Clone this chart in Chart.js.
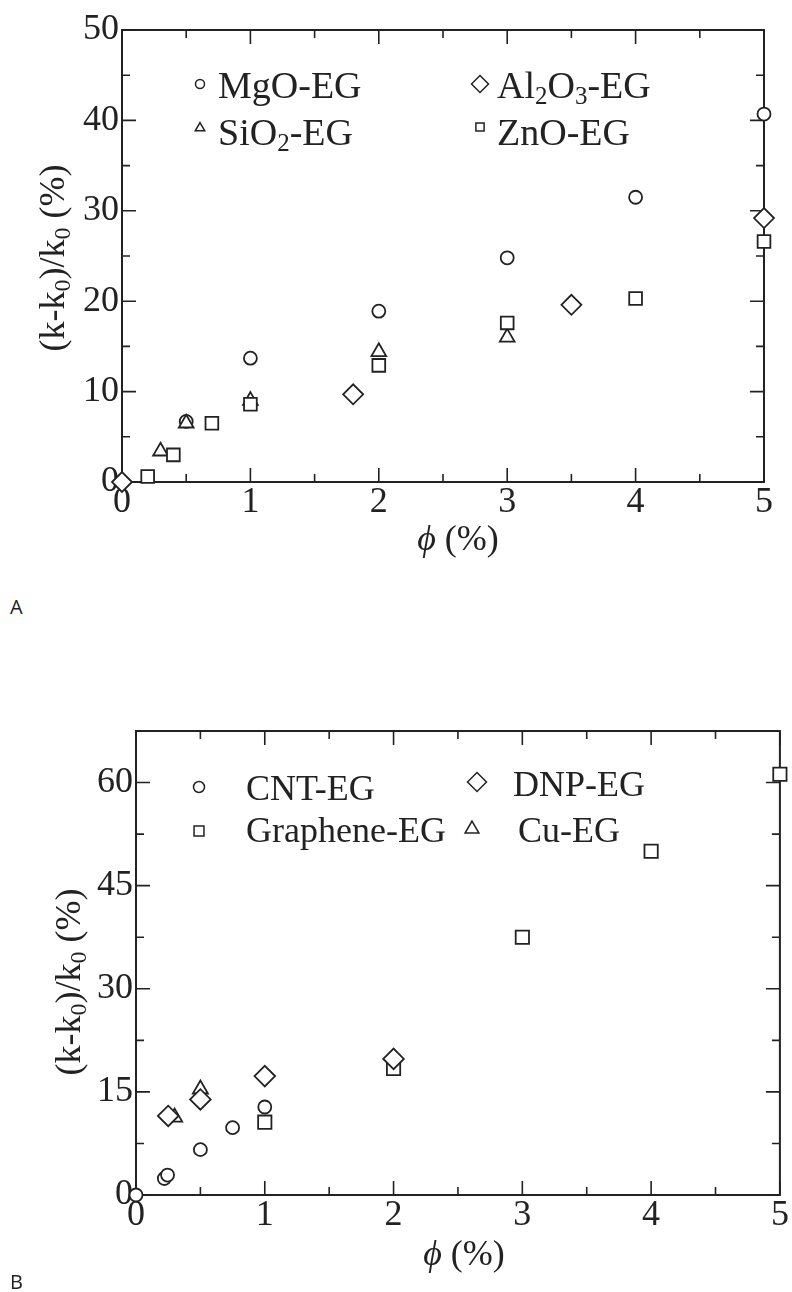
<!DOCTYPE html>
<html>
<head>
<meta charset="utf-8">
<script src="https://cdn.jsdelivr.net/npm/chart.js@4.4.0/dist/chart.umd.min.js"></script>
<style>
  html, body { margin: 0; padding: 0; background: #fff; }
  body { position: relative; width: 792px; height: 1292px; overflow: hidden; }
  canvas { position: absolute; left: 0; }
  #chartA { top: 0; }
  #chartB { top: 640px; }
  .panel { position: absolute; left: 10px; font-family: "Open Sans", sans-serif; font-size: 20px; line-height: 20px; color: #222; }
</style>
</head>
<body>
<canvas id="chartA" width="792" height="580"></canvas>
<canvas id="chartB" width="792" height="652"></canvas>
<div class="panel" style="top:597px">A</div>
<div class="panel" style="top:1272px">B</div>

<script>
// ---- Panel A data: (k-k0)/k0 (%) vs volume fraction phi (%) ----
const mgoX   = [0.5, 1, 2, 3, 4, 5];
const mgoY   = [6.7, 13.7, 18.9, 24.8, 31.5, 40.7];
const sio2X  = [0.3, 0.5, 1, 2, 3];
const sio2Y  = [3.4, 6.5, 9.0, 14.4, 16.0];
const al2o3X = [0, 1.8, 3.5, 5];
const al2o3Y = [0, 9.7, 19.6, 29.2];
const znoX   = [0.2, 0.4, 0.7, 1, 2, 3, 4, 5];
const znoY   = [0.6, 3.0, 6.5, 8.6, 12.9, 17.6, 20.3, 26.6];

// ---- Panel B data ----
const cntX      = [0, 0.22, 0.245, 0.5, 0.75, 1];
const cntY      = [0, 2.4, 2.9, 6.6, 9.8, 12.8];
const grapheneX = [1, 2, 3, 4, 5];
const grapheneY = [10.6, 18.4, 37.5, 50.0, 61.2];
const dnpX      = [0.25, 0.5, 1, 2];
const dnpY      = [11.5, 13.9, 17.3, 19.8];
const cuX       = [0.3, 0.5];
const cuY       = [11.3, 15.4];

// axis ranges / tick steps
const axisA = { xMax: 5, xStep: 0.5, xMajor: 1, yMax: 50, yStep: 5, yMajor: 10 };
const axisB = { xMax: 5, xStep: 0.5, xMajor: 1, yMax: 67.5, yStep: 7.5, yMajor: 15 };

// legend labels (rich text: sub = subscript)
const labelsA = {
  mgo:   [{ t: 'MgO-EG' }],
  al2o3: [{ t: 'Al' }, { t: '2', sub: true }, { t: 'O' }, { t: '3', sub: true }, { t: '-EG' }],
  sio2:  [{ t: 'SiO' }, { t: '2', sub: true }, { t: '-EG' }],
  zno:   [{ t: 'ZnO-EG' }]
};
const labelsB = {
  cnt:      [{ t: 'CNT-EG' }],
  dnp:      [{ t: 'DNP-EG' }],
  graphene: [{ t: 'Graphene-EG' }],
  cu:       [{ t: 'Cu-EG' }]
};
const yTitle = [{ t: '(k-k' }, { t: '0', sub: true }, { t: ')/k' }, { t: '0', sub: true }, { t: ' (%)' }];
const xTitle = [{ t: '\u03D5', italic: true }, { t: ' (%)' }];

const INK = '#222';
const SERIF = '"Liberation Serif", "Times New Roman", serif';

function zip(xs, ys) {
    return xs.map((x, i) => ({ x: x, y: ys[i] }));
}

function isMajor(v, step) {
    const q = v / step;
    return Math.abs(q - Math.round(q)) < 1e-6;
}

// draw a string made of parts (normal / italic / subscript)
function drawRich(ctx, parts, x, y, size, align) {
    const fontOf = p => (p.italic ? 'italic ' : '') + (p.sub ? Math.round(size * 0.66) : size) + 'px ' + SERIF;
    let w = 0;
    parts.forEach(p => { ctx.font = fontOf(p); w += ctx.measureText(p.t).width; });
    let cx = align === 'center' ? x - w / 2 : x;
    ctx.textAlign = 'left';
    ctx.textBaseline = 'alphabetic';
    parts.forEach(p => {
        ctx.font = fontOf(p);
        ctx.fillText(p.t, cx, y + (p.sub ? size * 0.17 : 0));
        cx += ctx.measureText(p.t).width;
    });
}

// open marker, same geometry as Chart.js point styles
function drawMarker(ctx, style, r, x, y) {
    ctx.beginPath();
    if (style === 'circle') {
        ctx.arc(x, y, r, 0, Math.PI * 2);
    } else if (style === 'rect') {
        const s = Math.SQRT1_2 * r;
        ctx.rect(x - s, y - s, 2 * s, 2 * s);
    } else if (style === 'rectRot') {
        ctx.moveTo(x - r, y); ctx.lineTo(x, y - r); ctx.lineTo(x + r, y); ctx.lineTo(x, y + r);
        ctx.closePath();
    } else if (style === 'triangle') {
        ctx.moveTo(x, y - r);
        ctx.lineTo(x + r * Math.sin(2 * Math.PI / 3), y + r / 2);
        ctx.lineTo(x - r * Math.sin(2 * Math.PI / 3), y + r / 2);
        ctx.closePath();
    }
    ctx.fill();
    ctx.stroke();
}

// box around the plot with inward ticks on all four sides
const framePlugin = {
    id: 'frame',
    beforeDatasetsDraw(chart, args, opts) {
        const { ctx, chartArea: a, scales } = chart;
        const x = scales.x, y = scales.y;
        ctx.save();
        ctx.strokeStyle = INK;
        ctx.lineWidth = 2;
        ctx.strokeRect(a.left, a.top, a.right - a.left, a.bottom - a.top);
        ctx.lineWidth = 1.6;
        ctx.beginPath();
        x.ticks.forEach(t => {
            const px = x.getPixelForValue(t.value);
            const len = isMajor(t.value, opts.xMajor) ? 14 : 8;
            ctx.moveTo(px, a.bottom); ctx.lineTo(px, a.bottom - len);
            ctx.moveTo(px, a.top);    ctx.lineTo(px, a.top + len);
        });
        y.ticks.forEach(t => {
            const py = y.getPixelForValue(t.value);
            const len = isMajor(t.value, opts.yMajor) ? 14 : 8;
            ctx.moveTo(a.left, py);  ctx.lineTo(a.left + len, py);
            ctx.moveTo(a.right, py); ctx.lineTo(a.right - len, py);
        });
        ctx.stroke();
        ctx.restore();
    },
    afterDraw(chart, args, opts) {
        const ctx = chart.ctx;
        ctx.save();
        ctx.fillStyle = INK;
        // x title
        drawRich(ctx, xTitle, opts.xTitle.x, opts.xTitle.y, 36, 'center');
        // y title, rotated
        ctx.translate(opts.yTitle.x, opts.yTitle.y);
        ctx.rotate(-Math.PI / 2);
        drawRich(ctx, yTitle, 0, 0, 36, 'center');
        ctx.restore();

        // legend
        ctx.save();
        ctx.strokeStyle = INK;
        ctx.fillStyle = '#fff';
        ctx.lineWidth = 1.5;
        opts.legend.forEach(it => drawMarker(ctx, it.style, it.r, it.mx, it.my));
        ctx.fillStyle = INK;
        opts.legend.forEach(it => drawRich(ctx, it.parts, it.tx, it.ty, opts.legendSize, 'left'));
        ctx.restore();
    }
};

function series(data, style, radius) {
    return {
        data: data,
        pointStyle: style,
        pointRadius: radius,
        pointBorderWidth: 1.8,
        pointBorderColor: INK,
        pointBackgroundColor: '#fff',
        showLine: false,
        clip: false
    };
}

function makeChart(canvasId, datasets, axis, yWidth, xHeight, padding, frameOpts) {
    const ctx = document.getElementById(canvasId);
    return new Chart(ctx, {
        type: 'scatter',
        data: { datasets: datasets },
        options: {
            responsive: false,
            animation: false,
            events: [],
            layout: { padding: padding },
            plugins: {
                legend: { display: false },
                tooltip: { enabled: false },
                frame: frameOpts
            },
            scales: {
                x: {
                    type: 'linear',
                    min: 0,
                    max: axis.xMax,
                    afterFit: s => { s.height = xHeight; },
                    grid: { display: true, drawOnChartArea: false, drawTicks: false },
                    border: { display: false },
                    ticks: {
                        stepSize: axis.xStep,
                        autoSkip: false,
                        maxRotation: 0,
                        padding: 3,
                        color: INK,
                        font: { family: SERIF, size: 36, lineHeight: 1 },
                        callback: v => isMajor(v, axis.xMajor) ? String(v) : ''
                    }
                },
                y: {
                    type: 'linear',
                    min: 0,
                    max: axis.yMax,
                    afterFit: s => { s.width = yWidth; },
                    grid: { display: true, drawOnChartArea: false, drawTicks: false },
                    border: { display: false },
                    ticks: {
                        stepSize: axis.yStep,
                        autoSkip: false,
                        padding: 3,
                        color: INK,
                        font: { family: SERIF, size: 36, lineHeight: 1 },
                        callback: v => isMajor(v, axis.yMajor) ? String(v) : ''
                    }
                }
            }
        },
        plugins: [framePlugin]
    });
}

// Panel A: first dataset is drawn on top
makeChart('chartA', [
    series(zip(znoX, znoY), 'rect', 9),
    series(zip(sio2X, sio2Y), 'triangle', 8.5),
    series(zip(mgoX, mgoY), 'circle', 6.5),
    series(zip(al2o3X, al2o3Y), 'rectRot', 10)
], axisA, 122, 98, { top: 30, right: 28, left: 0, bottom: 0 }, {
    xMajor: axisA.xMajor,
    yMajor: axisA.yMajor,
    xTitle: { x: 458, y: 550 },
    yTitle: { x: 64, y: 258 },
    legendSize: 38,
    legend: [
        { style: 'circle',   r: 4.5, mx: 200, my: 84,  parts: labelsA.mgo,   tx: 218, ty: 98 },
        { style: 'rectRot',  r: 8.5, mx: 480, my: 84,  parts: labelsA.al2o3, tx: 497, ty: 98 },
        { style: 'triangle', r: 5.5, mx: 200, my: 128, parts: labelsA.sio2,  tx: 218, ty: 145 },
        { style: 'rect',     r: 5.8, mx: 480, my: 127, parts: labelsA.zno,   tx: 497, ty: 145 }
    ]
});

// Panel B
makeChart('chartB', [
    series(zip(dnpX, dnpY), 'rectRot', 10.3),
    series(zip(cuX, cuY), 'triangle', 8.7),
    series(zip(cntX, cntY), 'circle', 6.5),
    series(zip(grapheneX, grapheneY), 'rect', 9.4)
], axisB, 136, 97, { top: 91, right: 10, left: 0, bottom: 0 }, {
    xMajor: axisB.xMajor,
    yMajor: axisB.yMajor,
    xTitle: { x: 464, y: 625 },
    yTitle: { x: 80, y: 342 },
    legendSize: 36,
    legend: [
        { style: 'circle',   r: 5.5, mx: 199, my: 147, parts: labelsB.cnt,      tx: 246, ty: 160 },
        { style: 'rectRot',  r: 9.5, mx: 477, my: 142, parts: labelsB.dnp,      tx: 513, ty: 156 },
        { style: 'rect',     r: 7,   mx: 199, my: 191, parts: labelsB.graphene, tx: 246, ty: 202 },
        { style: 'triangle', r: 8,   mx: 472, my: 189, parts: labelsB.cu,       tx: 518, ty: 202 }
    ]
});
</script>
</body>
</html>
